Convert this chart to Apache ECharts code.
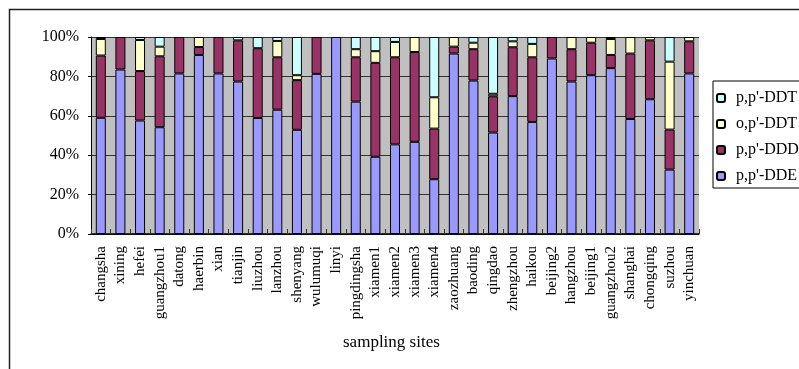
<!DOCTYPE html>
<html>
<head>
<meta charset="utf-8">
<script src="https://cdn.jsdelivr.net/npm/echarts@6/dist/echarts.min.js"></script>
<style>
  html, body { margin: 0; padding: 0; background: #fff; }
  #chart { width: 799px; height: 369px; }
</style>
</head>
<body>
<div id="chart"></div>
<script>
// Sampling sites along the category axis
const sites = ['changsha', 'xining', 'hefei', 'guangzhou1', 'datong', 'haerbin', 'xian', 'tianjin',
  'liuzhou', 'lanzhou', 'shenyang', 'wulumuqi', 'linyi', 'pingdingsha', 'xiamen1', 'xiamen2',
  'xiamen3', 'xiamen4', 'zaozhuang', 'baoding', 'qingdao', 'zhengzhou', 'haikou', 'beijing2',
  'hangzhou', 'beijing1', 'guangzhou2', 'shanghai', 'chongqing', 'suzhou', 'yinchuan'];

// Percentage composition of each compound (%)
const ppDDE = [59, 83.5, 57.6, 54.2, 81.5, 90.9, 81.5, 77.4, 58.9, 63.1, 52.9, 81.3, 100, 67.2, 39.2, 45.5,
  46.8, 27.8, 91.6, 77.9, 51.5, 70, 56.9, 89.1, 77.4, 80.6, 84.2, 58.4, 68.4, 32.7, 81.5];
const ppDDD = [31.6, 16.5, 25.1, 36, 18.5, 4, 18.5, 20.9, 35.4, 26.6, 25.2, 18.7, 0, 22.5, 47.7, 44.2,
  45.6, 25.7, 3.5, 15.9, 18.4, 24.8, 32.8, 10.9, 16.4, 16.5, 6.7, 33.2, 29.9, 20.3, 16.3];
const opDDT = [8.4, 0, 15.8, 4.9, 0, 5.1, 0, 0, 0, 8.3, 2.5, 0, 0, 4.1, 5.9, 7.8,
  7.6, 15.9, 4.9, 3.3, 1.3, 3, 6.8, 0, 6.2, 2.9, 8.1, 8.4, 1.7, 34.5, 2.2];
const ppDDT = [1, 0, 1.5, 4.9, 0, 0, 0, 1.7, 5.7, 2, 19.4, 0, 0, 6.2, 7.2, 2.5,
  0, 30.6, 0, 2.9, 28.8, 2.2, 3.5, 0, 0, 0, 1, 0, 0, 12.5, 0];

const yTicks = [0, 20, 40, 60, 80, 100];
const legendOrder = ["p,p'-DDT", "o,p'-DDT", "p,p'-DDD", "p,p'-DDE"];

const serif = 'Liberation Serif, Times New Roman, serif';

function stackSeries(name, data, color) {
  return {
    name: name,
    type: 'bar',
    stack: 'total',
    barWidth: 10,
    data: data.map(v => (v === 0 ? null : v)),
    itemStyle: { color: color, borderColor: '#000', borderWidth: 1 }
  };
}

const chart = echarts.init(document.getElementById('chart'), null, { renderer: 'canvas' });
chart.setOption({
  animation: false,
  backgroundColor: '#fff',
  grid: {
    left: 91, top: 37, right: 100, bottom: 135,
    show: true, backgroundColor: '#C0C0C0', borderWidth: 0
  },
  legend: {
    data: legendOrder,
    orient: 'vertical',
    left: 713, top: 81,
    padding: [9, 30, 4, 3],
    itemWidth: 8, itemHeight: 8, itemGap: 10,
    backgroundColor: '#fff',
    borderColor: '#000', borderWidth: 1,
    textStyle: { fontFamily: serif, fontSize: 16, lineHeight: 16, color: '#000', padding: [0, 0, 0, 6] }
  },
  xAxis: {
    type: 'category',
    data: sites,
    axisLine: { show: true, lineStyle: { color: '#000', width: 1.5 } },
    axisTick: { show: true, inside: true, length: 5, alignWithLabel: false, lineStyle: { color: '#333' } },
    axisLabel: { rotate: 90, interval: 0, margin: 12, fontFamily: serif, fontSize: 15, color: '#000' },
    splitLine: { show: false }
  },
  yAxis: {
    type: 'value',
    min: yTicks[0], max: yTicks[yTicks.length - 1], interval: 20,
    axisLine: { show: true, lineStyle: { color: '#000', width: 1 } },
    axisTick: { show: true, length: 3, lineStyle: { color: '#000' } },
    axisLabel: { formatter: '{value}%', margin: 12, fontFamily: serif, fontSize: 16, color: '#000' },
    splitLine: { show: true, lineStyle: { color: '#333', width: 1 } }
  },
  graphic: [
    {
      type: 'rect', silent: true, z: -1,
      shape: { x: 9.5, y: 9.5, width: 820, height: 400 },
      style: { fill: 'none', stroke: '#222', lineWidth: 1.5 }
    },
    {
      type: 'text', left: 343, top: 334,
      style: { text: 'sampling sites', fontFamily: serif, fontSize: 17, fill: '#000' }
    }
  ],
  series: [
    stackSeries("p,p'-DDE", ppDDE, '#9999FF'),
    stackSeries("p,p'-DDD", ppDDD, '#993366'),
    stackSeries("o,p'-DDT", opDDT, '#FFFFCC'),
    stackSeries("p,p'-DDT", ppDDT, '#CCFFFF')
  ]
});
</script>
</body>
</html>
